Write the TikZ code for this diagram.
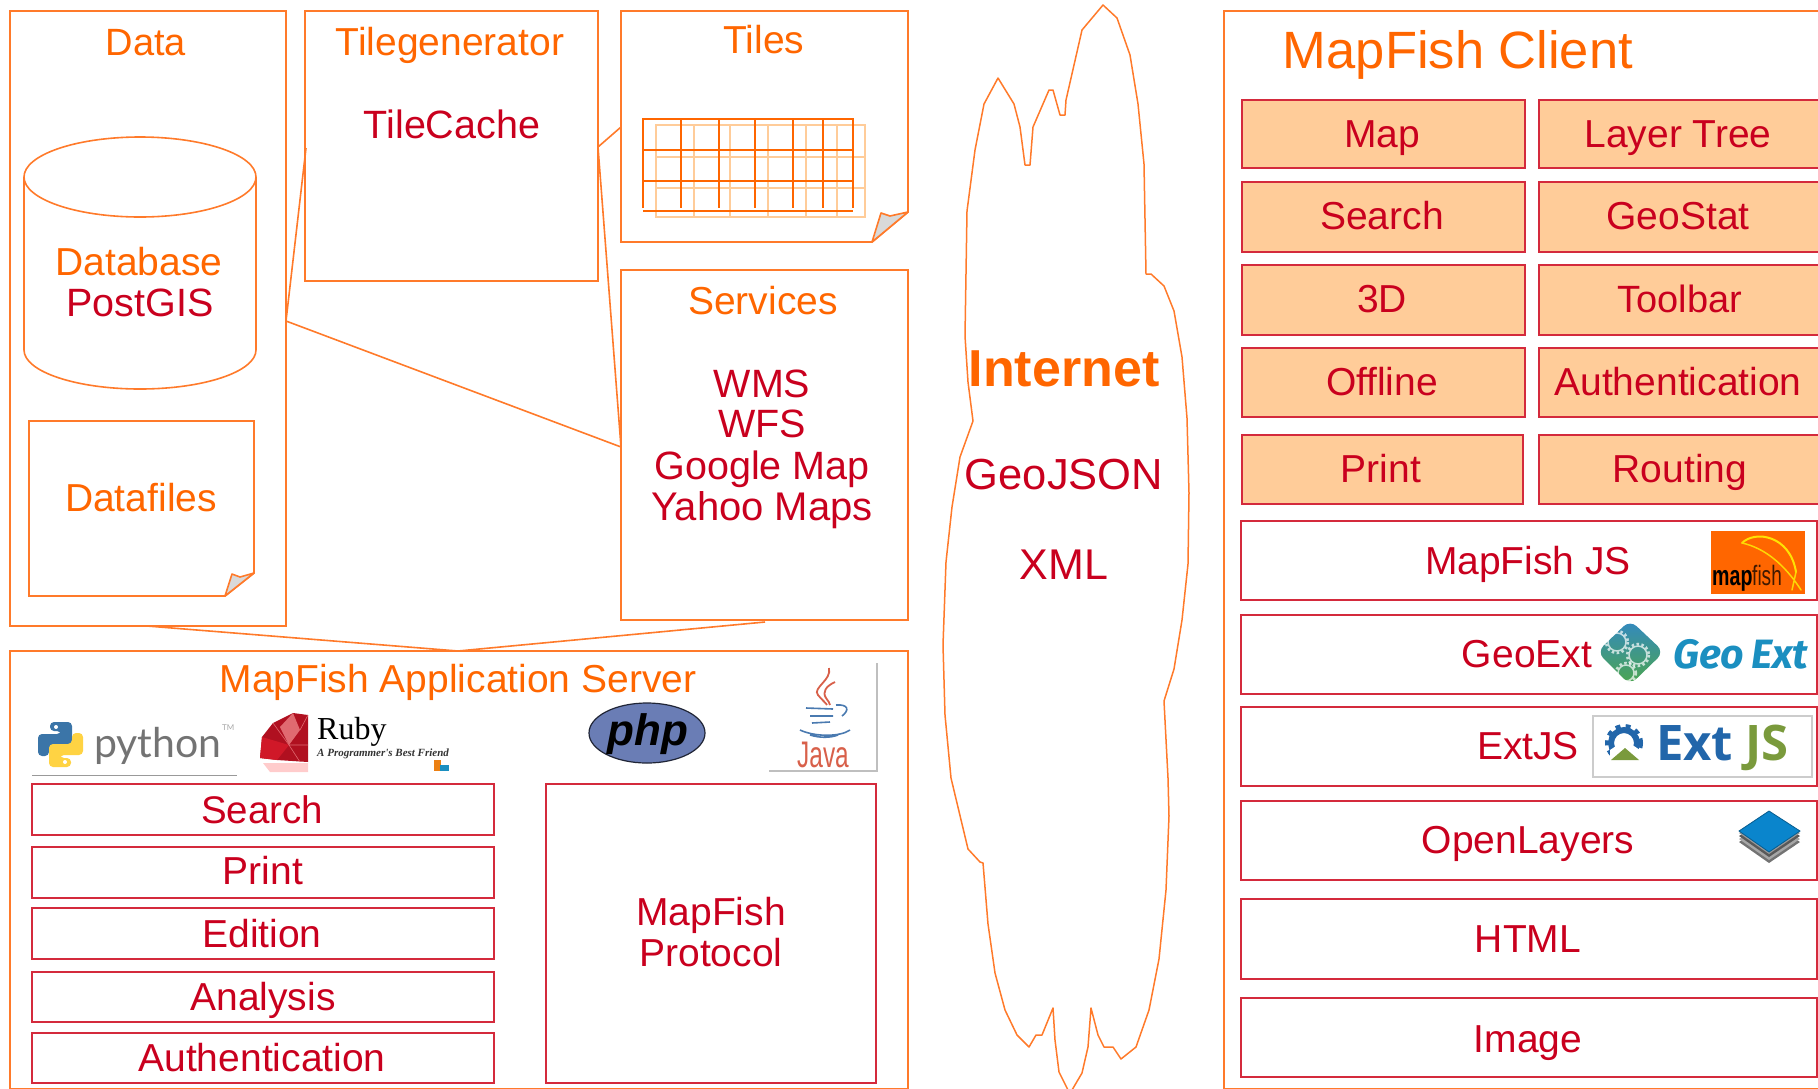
\documentclass[tikz,border=0pt]{standalone}
\usepackage{fontspec}
\usepackage{graphicx}
\setmainfont{Liberation Sans}
\newfontfamily\latofont{Lato}
\newfontfamily\serifont{Liberation Serif}
\newfontfamily\opensans{Open Sans}
\newfontfamily\firafont{Fira Sans}
\definecolor{ora}{HTML}{FF6600}
\definecolor{lin}{HTML}{FF7A2A}
\definecolor{red1}{HTML}{C9001E}
\definecolor{red2}{HTML}{D42A3C}
\definecolor{peach}{HTML}{FFCC99}
\definecolor{phpblue}{HTML}{6A7DB5}
\definecolor{geoblue}{HTML}{1B8FC0}
\definecolor{extblue}{HTML}{2266AA}
\definecolor{extgreen}{HTML}{7A9A3C}
\definecolor{rubyred}{HTML}{B01020}
\definecolor{rubyhi}{HTML}{E06A70}
\definecolor{rubymid}{HTML}{D01828}
\definecolor{javared}{HTML}{D8604A}
\definecolor{javablue}{HTML}{4A7AB0}
\definecolor{pyblue}{HTML}{3B75A8}
\definecolor{pyyel}{HTML}{FFD343}
\definecolor{olblue}{HTML}{0A85CC}
\newcommand\fs[1]{\fontsize{#1}{#1}\selectfont}
\newcommand\lab[6]{\node[inner sep=0pt,anchor=base,text=#5,font={\fs{#4}}] (#1) at (#2,{#3+0.358*#4}) {#6};}
\newcommand\bx[6]{\node[#6,anchor=north west,minimum width={#4-#2},minimum height={#5-#3}] (#1) at (#2,#3) {};}
\tikzset{
  frame/.style={draw=lin,line width=1.8pt,inner sep=0pt,outer sep=0pt},
  redbox/.style={draw=red2,line width=2.3pt,inner sep=0pt,outer sep=0pt},
  peachbox/.style={redbox,fill=peach},
  conn/.style={draw=lin,line width=1.6pt},
  darkgrid/.style={draw=ora,line width=1.6pt},
  lightgrid/.style={draw=peach,line width=1.8pt},
  flap/.style={draw=lin,line width=1.6pt,fill=black!15,line join=round},
}
\begin{document}
\begin{tikzpicture}[x=1pt,y=-1pt]
\useasboundingbox (0,0) rectangle (1818,1088);
\begin{scope}
\clip (0,0) rectangle (1818,1088);
% ---------- frames
\bx{data}{10}{11}{286}{626}{frame}
\bx{tilegen}{305}{11}{598}{281}{frame}
\bx{services}{621}{270}{908}{620}{frame}
\bx{app}{10}{651}{908}{1088.7}{frame}
\bx{client}{1224}{11}{1830}{1088.7}{frame}
\lab{tData}{146}{42}{38}{ora}{Data}
\lab{tTilegen}{450}{42}{39}{ora}{Tilegenerator}
\lab{tTileCache}{452}{124}{39.5}{red1}{TileCache}
\lab{tTiles}{764}{40}{39}{ora}{Tiles}
\lab{tServices}{763}{301}{39}{ora}{Services}
\lab{tWMS}{762}{383}{39.5}{red1}{WMS}
\lab{tWFS}{762}{423}{39.5}{red1}{WFS}
\lab{tGoogle}{762}{465}{39.5}{red1}{Google Map}
\lab{tYahoo}{762}{506}{40}{red1}{Yahoo Maps}
% ---------- tiles page
\coordinate (tnw) at (621,11);
\coordinate (tne) at (908,11);
\coordinate (tse) at (908,212);
\coordinate (tsf) at (872,242);
\coordinate (tsw) at (621,242);
\draw[frame,line join=miter] (tnw) -- (tne) -- (tse) -- (tsf) -- (tsw) -- cycle;
\draw[flap] (tsf) -- (881,213) -- (890,216) -- (tse) -- cycle;
% light grid
\draw[lightgrid] (656,125) rectangle (865,217);
\foreach \x in {694,730,768,806,837} \draw[lightgrid] (\x,125) -- (\x,217);
\foreach \y in {157,188} \draw[lightgrid] (656,\y) -- (865,\y);
% dark grid
\draw[darkgrid] (643,208) -- (643,119) -- (853,119) -- (853,208);
\draw[darkgrid] (643,211) -- (853,211);
\foreach \x in {681,719,755,793,823} \draw[darkgrid] (\x,119) -- (\x,208);
\foreach \y in {150,181} \draw[darkgrid] (643,\y) -- (853,\y);
% ---------- database
\draw[draw=lin,line width=1.6pt] (140,177) ellipse [x radius=116,y radius=40];
\draw[draw=lin,line width=1.6pt] (24,177) -- (24,350) arc[start angle=180,end angle=0,x radius=116,y radius=39] -- (256,177);
\lab{tDatabase}{139}{262}{39}{ora}{Database}
\lab{tPostGIS}{140}{302}{39.5}{red1}{PostGIS}
% ---------- datafiles
\coordinate (dnw) at (29,421);
\coordinate (dne) at (254,421);
\coordinate (dse) at (254,573);
\coordinate (dsf) at (225,596);
\coordinate (dsw) at (29,596);
\draw[frame,line join=miter] (dnw) -- (dne) -- (dse) -- (dsf) -- (dsw) -- cycle;
\draw[flap] (dsf) -- (232,574) -- (240,577) -- (dse) -- cycle;
\lab{tDatafiles}{141}{498}{39}{ora}{Datafiles}
% ---------- connectors
\coordinate (jData) at (286,321);
\coordinate (jTile) at (306,148);
\coordinate (jTg) at (598,147);
\coordinate (jTiles) at (621,127);
\coordinate (jSrv) at (621,447);
\coordinate (jDb) at (147,626);
\coordinate (jSb) at (765,622);
\coordinate (jApp) at (458,651);
\draw[conn] (jData) -- (jTile);
\draw[conn] (jData) -- (jSrv);
\draw[conn] (jTg) -- (jTiles);
\draw[conn] (jTg) -- (jSrv);
\draw[conn] (jDb) -- (jApp) -- (jSb);
% ---------- cloud
\draw[draw=lin,line width=1.5pt,line join=round]
 (1103,5) -- (1117,18) -- (1130,55) -- (1138,104) -- (1144,164) -- (1146,274) -- (1151,274) -- (1164,286) -- (1174,311) -- (1182,357) -- (1187,418) -- (1189,493) -- (1188,564) -- (1182,620) -- (1174,669) -- (1164,701) -- (1168,778) -- (1169,816) -- (1166,890) -- (1159,959) -- (1149,1010) -- (1136,1047) -- (1121,1059) -- (1113,1047) -- (1104,1047) -- (1098,1035) -- (1091,1008) -- (1088,1047) -- (1082,1073) -- (1072,1090) -- (1068,1090) -- (1059,1072) -- (1055,1040) -- (1053,1008) -- (1042,1035) -- (1036,1035) -- (1029,1047) -- (1017,1035) -- (1005,1010) -- (995,973) -- (988,924) -- (983,863) -- (980,862) -- (968,849) -- (951,778) -- (945,715) -- (943,645) -- (946,562) -- (952,507) -- (960,457) -- (973,421) -- (968,382) -- (965,336) -- (967,211) -- (975,150) -- (984,104) -- (998,78) -- (1014,104) -- (1020,127) -- (1025,165) -- (1030,165) -- (1033,127) -- (1049,90) -- (1053,90) -- (1060,115) -- (1065,115) -- (1066,100) -- (1082,30) -- cycle;
\node[inner sep=0pt,anchor=base,text=ora,font={\fs{52}\bfseries}] (tInternet) at (1064,386) {Internet};
\lab{tGeoJSON}{1064}{474}{43.5}{red1}{GeoJSON}
\lab{tXML}{1064}{564}{43}{red1}{XML}
% ---------- application server
\lab{tApp}{458}{679}{39}{ora}{MapFish Application Server}
\bx{sSearch}{32}{784}{494}{835}{redbox}
\bx{sPrint}{32}{847}{494}{898}{redbox}
\bx{sEdition}{32}{908}{494}{959}{redbox}
\bx{sAnalysis}{32}{972}{494}{1022}{redbox}
\bx{sAuth}{32}{1033}{494}{1083}{redbox}
\bx{sProto}{546}{784}{876}{1083}{redbox}
\lab{tsSearch}{262}{810}{38.5}{red1}{Search}
\lab{tsPrint}{263}{871}{39}{red1}{Print}
\lab{tsEdition}{262}{934}{39}{red1}{Edition}
\lab{tsAnalysis}{263}{997}{39}{red1}{Analysis}
\lab{tsAuth}{262}{1058}{39}{red1}{Authentication}
\lab{tsMapFish}{711}{912}{39}{red1}{MapFish}
\lab{tsProto}{711}{953}{39}{red1}{Protocol}
% python logo
\fill[fill=black!40] (32,774.5) rectangle (237,776);
\fill[fill=pyblue,rounded corners=4pt] (50,731) -- (50,722) -- (72,722) -- (72,745) -- (49,745) -- (49,756) -- (38,756) -- (38,734) -- (61,734) -- (61,731) -- cycle;
\fill[fill=pyyel,rounded corners=4pt] (71,758) -- (71,767) -- (49,767) -- (49,744) -- (72,744) -- (72,733) -- (83,733) -- (83,755) -- (60,755) -- (60,758) -- cycle;
\fill[white] (56,727) circle (2);
\fill[white] (65,762) circle (2);
\node[inner sep=0pt,anchor=base west,text=black!55,font={\fs{41}\latofont}] (tPython) at (94,757) {python};
\node[inner sep=0pt,anchor=base west,text=black!35,font={\fs{8}\latofont}] (tTM) at (222,730) {TM};
% ruby logo
\fill[fill=red!20] (263,763) -- (308,763) -- (308,772) -- (270,772) -- cycle;
\fill[fill=rubyred] (273,723) -- (293,713) -- (308,715) -- (308,762) -- (277,760) -- (260,758) -- (262,737) -- cycle;
\fill[fill=rubymid] (262,737) -- (289,745) -- (277,760) -- (260,758) -- cycle;
\fill[fill=rubyhi] (293,713) -- (300,730) -- (289,745) -- (280,727) -- cycle;
\draw[rubyhi,line width=.6pt] (273,723) -- (289,745) -- (308,745) (300,730) -- (308,715) (289,745) -- (300,762);
\node[inner sep=0pt,anchor=base west,text=black,font={\fs{32}\serifont}] (tRuby) at (317,739) {Ruby};
\node[inner sep=0pt,anchor=base west,text=black!80,font={\fs{11}\serifont\itshape\bfseries}] (tRubySub) at (317,756) {A Programmer's Best Friend};
\fill[fill=orange!70!brown] (434,760) rectangle (441,771);
\fill[fill=geoblue] (440,765) rectangle (449,771);
% php logo
\draw[draw=black!70!phpblue,line width=1.2pt,fill=phpblue] (647,733) ellipse [x radius=58,y radius=30];
\node[inner sep=0pt,anchor=base,text=black,font={\fs{44}\bfseries\itshape}] (tPhp) at (648,745) {php};
% java logo
\draw[draw=black!25,line width=1.3pt] (877,663) -- (877,771) -- (769,771);
\draw[draw=javared,line width=1.8pt] (829,668) .. controls (832,680) and (812,688) .. (818,695) .. controls (822,700) and (826,703) .. (827,705);
\draw[draw=javared,line width=1.8pt] (835,682) .. controls (826,686) and (822,692) .. (826,698) .. controls (828,701) and (830,703) .. (830,705);
\draw[draw=javablue,line width=1.6pt] (806,708) -- (833,709) (810,716) -- (833,716) (812,723) -- (830,722) (800,730) .. controls (815,737) and (840,737) .. (850,730) (810,735) .. controls (820,738) and (830,738) .. (838,735) (836,705) .. controls (848,704) and (850,710) .. (842,716);
\node[inner sep=0pt,anchor=base,text=javared] (tJava) at (823,767) {\fs{37}\scalebox{.66}[1]{Java}};
% ---------- client
\lab{tClient}{1458}{50}{52.5}{ora}{MapFish Client}
\bx{cMap}{1242}{100}{1525}{168}{peachbox}
\bx{cTree}{1539}{100}{1830}{168}{peachbox}
\bx{cSearch}{1242}{182}{1525}{252}{peachbox}
\bx{cStat}{1539}{182}{1830}{252}{peachbox}
\bx{cThree}{1242}{265}{1525}{335}{peachbox}
\bx{cTool}{1539}{265}{1830}{335}{peachbox}
\bx{cOff}{1242}{348}{1525}{417}{peachbox}
\bx{cAuth}{1539}{348}{1830}{417}{peachbox}
\bx{cPrint}{1242}{435}{1523}{504}{peachbox}
\bx{cRoute}{1539}{435}{1830}{504}{peachbox}
\lab{tcMap}{1382}{134}{39}{red1}{Map}
\lab{tcTree}{1678}{134}{39}{red1}{Layer Tree}
\lab{tcSearch}{1382}{216}{39}{red1}{Search}
\lab{tcStat}{1678}{216}{39}{red1}{GeoStat}
\lab{tcThree}{1382}{299}{39}{red1}{3D}
\lab{tcTool}{1680}{299}{38}{red1}{Toolbar}
\lab{tcOff}{1382}{382}{39}{red1}{Offline}
\lab{tcAuth}{1678}{382}{39}{red1}{Authentication}
\lab{tcPrint}{1381}{469}{39}{red1}{Print}
\lab{tcRoute}{1680}{469}{39}{red1}{Routing}
\bx{cMF}{1241}{521}{1817}{600}{redbox}
\bx{cGE}{1241}{615}{1817}{694}{redbox}
\bx{cEJ}{1241}{707}{1817}{786}{redbox}
\bx{cOL}{1241}{801}{1817}{880}{redbox}
\bx{cHT}{1241}{899}{1817}{979}{redbox}
\bx{cIM}{1241}{998}{1817}{1077}{redbox}
\lab{tcMF}{1528}{561}{39}{red1}{MapFish JS}
\lab{tcGE}{1527}{654}{39}{red1}{GeoExt}
\lab{tcEJ}{1528}{746}{39}{red1}{ExtJS}
\lab{tcOL}{1528}{840}{39}{red1}{OpenLayers}
\lab{tcHT}{1528}{939}{39}{red1}{HTML}
\lab{tcIM}{1528}{1039}{39}{red1}{Image}
% mapfish logo
\fill[fill=ora] (1711,531) rectangle (1805,594);
\draw[draw=yellow!85!orange,line width=2pt,line cap=round] (1742,543) .. controls (1755,530) and (1790,535) .. (1796,572);
\draw[draw=yellow!75!orange,line width=1.5pt,line cap=round] (1742,543) .. controls (1765,548) and (1785,565) .. (1801,590) (1796,572) -- (1792,590);
\node[inner sep=0pt,anchor=base west,text=black] (tLogoMap) at (1712,585) {\fs{28}\scalebox{.7}[1]{\bfseries map}};
\node[inner sep=0pt,anchor=base west,text=black!75!ora] (tLogoFish) at (1752,585) {\fs{28}\scalebox{.68}[1]{fish}};
% geoext logo
\shade[left color=cyan!60!blue!70!black!80,right color=green!50!black!70,shading angle=0,rounded corners=9pt] (1630,620) -- (1664,652) -- (1630,685) -- (1597,652) -- cycle;
\foreach \cx/\cy/\r in {1617/642/9,1638/655/9,1626/673/8} {
 \draw[white,opacity=.7,line width=1.5pt] (\cx,\cy) circle (\r);
 \draw[white,opacity=.7,line width=2.5pt,dash pattern=on 2.5pt off 2.5pt] (\cx,\cy) circle ({\r+2});
}
\node[inner sep=0pt,anchor=base west,text=geoblue,font={\fs{41}\firafont\bfseries\itshape}] (tLogoGeo) at (1673,668) {Geo\,Ext};
% extjs logo
\draw[draw=black!20,line width=1.2pt] (1593,716) rectangle (1812,777);
\draw[draw=extblue,line width=6pt] (1624,743) circle (13);
\draw[draw=extblue,line width=4pt,dash pattern=on 5pt off 5.2pt] (1624,743) circle (17);
\fill[white] (1610,750) -- (1625,740) -- (1640,750) -- (1640,765) -- (1610,765) -- cycle;
\fill[fill=extgreen] (1611,760) -- (1625,748) -- (1639,760) -- cycle;
\node[inner sep=0pt,anchor=base west,text=extblue,font={\fs{49}\opensans\bfseries}] (tLogoExt) at (1656,760) {Ext};
\node[inner sep=0pt,anchor=base west,text=extgreen,font={\fs{49}\opensans\bfseries}] (tLogoJS) at (1745,760) {JS};
% openlayers logo
\foreach \d/\c in {11/black!55,8/black!35,5/black!65,2/black!40}
  \fill[fill=\c] (1769,811+\d) -- (1800,831+\d) -- (1769,852+\d) -- (1739,831+\d) -- cycle;
\draw[draw=olblue!70!black,fill=olblue,line width=.8pt] (1769,811) -- (1800,831) -- (1769,852) -- (1739,831) -- cycle;
\end{scope}
\end{tikzpicture}
\end{document}
